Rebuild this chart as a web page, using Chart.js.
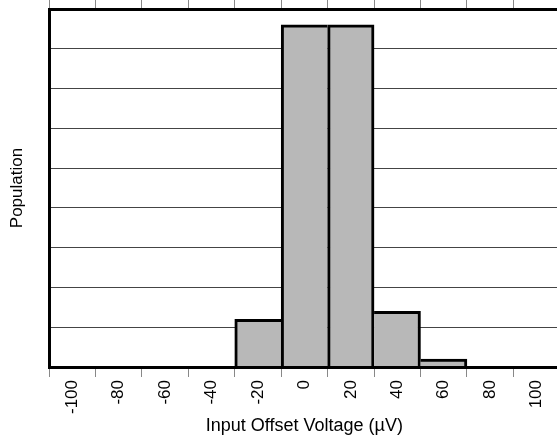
<!DOCTYPE html>
<html>
<head>
<meta charset="utf-8">
<script src="https://cdn.jsdelivr.net/npm/chart.js"></script>
<style>
  html, body { margin: 0; padding: 0; background: #fff; overflow: hidden; }
  #wrap { width: 560px; height: 437px; }
</style>
</head>
<body>
<div id="wrap"><canvas id="myChart"></canvas></div>
<script>
var labels = ['-100', '-80', '-60', '-40', '-20', '0', '20', '40', '60', '80', '100'];
var population = [0, 0, 0, 0, 1.2, 8.6, 8.6, 1.4, 0.2, 0, 0];
var xTitle = 'Input Offset Voltage (\u00b5V)';
var yTitle = 'Population';

var font = 'Liberation Sans, Arial, Helvetica, sans-serif';

// one black line between neighbouring bars, drawn by the taller one
function barBorder(ctx) {
  var i = ctx.dataIndex;
  var v = population[i];
  if (!v) return 0;
  var prev = i > 0 ? population[i - 1] : 0;
  var next = i < population.length - 1 ? population[i + 1] : 0;
  return {
    top: 3,
    left: v >= prev ? 3 : 0,
    right: v > next ? 3 : 0,
    bottom: 0
  };
}

var ctx = document.getElementById('myChart').getContext('2d');
var chart = new Chart(ctx, {
  type: 'bar',
  data: {
    labels: labels,
    datasets: [{
      data: population,
      backgroundColor: '#b8b8b8',
      borderColor: '#000',
      borderWidth: barBorder,
      borderSkipped: false,
      barPercentage: 1,
      categoryPercentage: 1,
      xAxisID: 'x'
    }]
  },
  options: {
    responsive: true,
    maintainAspectRatio: false,
    animation: false,
    layout: { padding: 0 },
    plugins: {
      legend: { display: false },
      tooltip: { enabled: false }
    },
    scales: {
      x: {
        type: 'category',
        position: 'bottom',
        offset: true,
        grid: { offset: true, drawOnChartArea: false, tickLength: 10, color: '#888', lineWidth: 1 },
        border: { display: true, color: '#000', width: 3, z: 1 },
        ticks: {
          color: '#000',
          font: { family: font, size: 17 },
          minRotation: 90,
          maxRotation: 90,
          autoSkip: false,
          padding: 3
        },
        title: {
          display: true,
          text: xTitle,
          color: '#000',
          font: { family: font, size: 18 },
          padding: { top: 3, bottom: 0 }
        },
        afterFit: function(scale) { scale.height = 70; }
      },
      x2: {
        type: 'category',
        position: 'top',
        offset: true,
        grid: { offset: true, drawOnChartArea: false, tickLength: 9, color: '#888', lineWidth: 1 },
        border: { display: true, color: '#000', width: 3, z: 1 },
        ticks: { display: false },
        afterFit: function(scale) { scale.height = 9; }
      },
      y: {
        min: 0,
        max: 9,
        ticks: { display: false, stepSize: 1 },
        grid: { drawTicks: false, color: '#444', lineWidth: 1 },
        border: { display: true, color: '#000', width: 3, z: 1 },
        title: {
          display: true,
          text: yTitle,
          color: '#000',
          font: { family: font, size: 17 },
          padding: { top: 7, bottom: 0 }
        },
        afterFit: function(scale) { scale.width = 49; }
      }
    }
  }
});
</script>
</body>
</html>
